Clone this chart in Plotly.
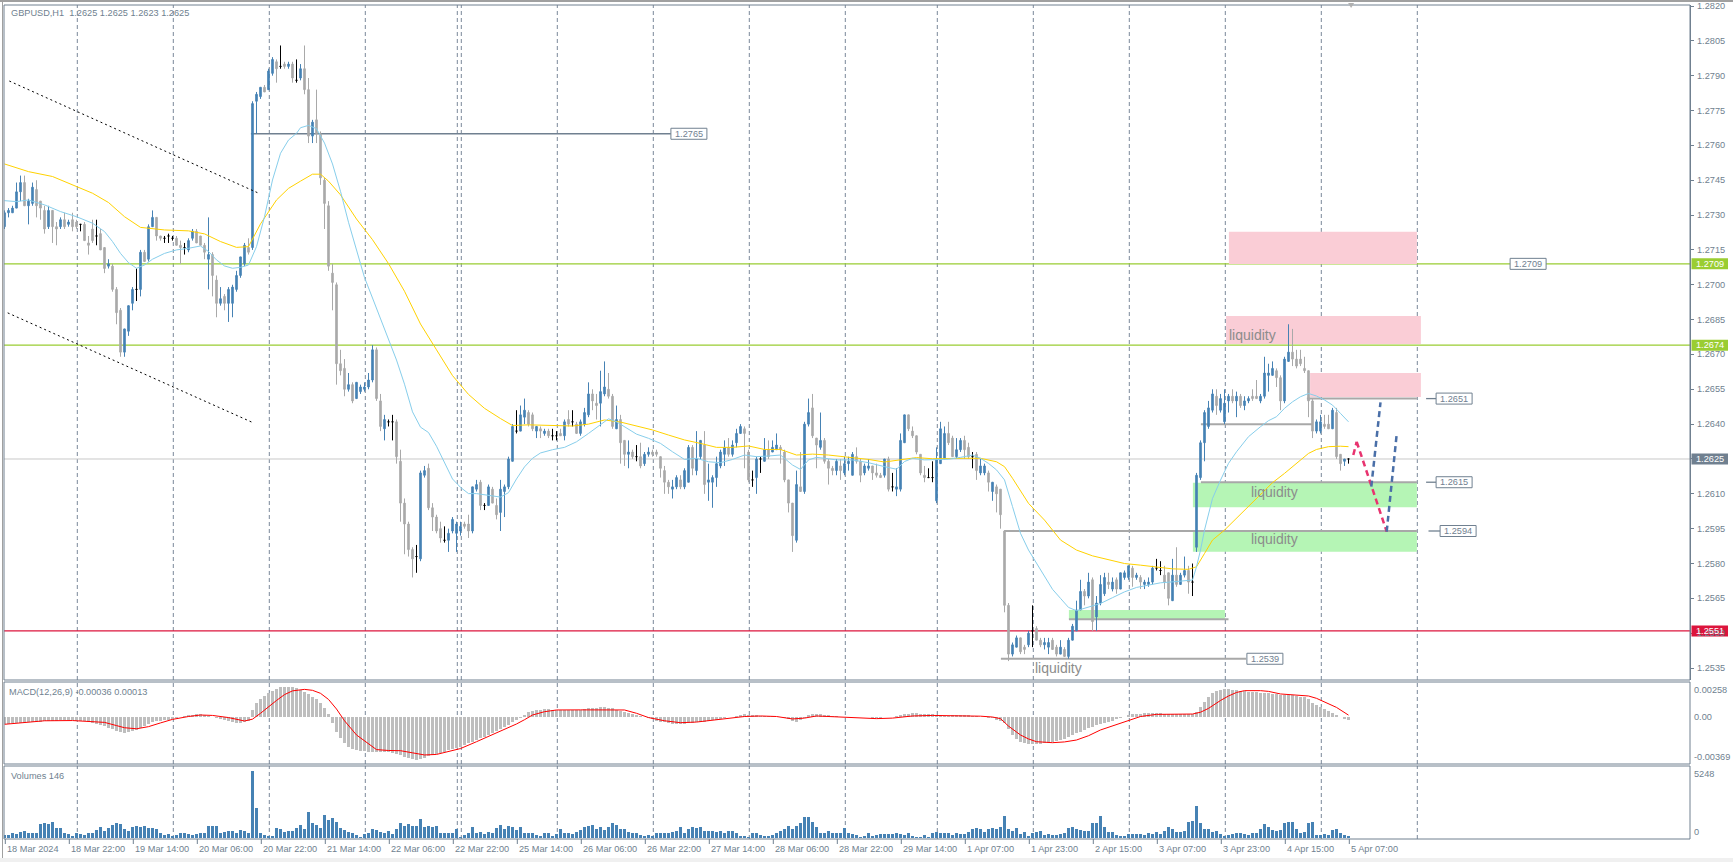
import plotly.graph_objects as go

# ---------------- chart data : GBPUSD, H1 (bar 0 = 18 Mar 2024 00:00) ----------------
first_bar = 6

opens = [
    1.2725,1.2731,1.2731,1.2733,1.2740,1.2744,1.2734,1.2735,1.2741,1.2736,
    1.2732,1.2725,1.2732,1.2725,1.2725,1.2728,1.2726,1.2728,1.2727,1.2726,
    1.2726,1.2718,1.2724,1.2721,1.2722,1.2716,1.2708,1.2708,1.2698,1.2689,
    1.2671,1.2680,1.2692,1.2698,1.2698,1.2714,1.2711,1.2725,1.2729,1.2721,
    1.2720,1.2721,1.2720,1.2720,1.2717,1.2716,1.2715,1.2720,1.2723,1.2721,
    1.2717,1.2711,1.2713,1.2702,1.2692,1.2695,1.2692,1.2692,1.2698,1.2704,
    1.2709,1.2716,1.2716,1.2779,1.2781,1.2785,1.2784,1.2791,1.2796,1.2794,
    1.2795,1.2794,1.2795,1.2788,1.2789,1.2793,1.2784,1.2764,1.2771,1.2765,
    1.2745,1.2734,1.2705,1.2700,1.2666,1.2664,1.2655,1.2657,1.2651,1.2654,
    1.2655,1.2656,1.2659,1.2672,1.2650,1.2638,1.2641,1.2641,1.2641,1.2624,
    1.2606,1.2597,1.2586,1.2583,1.2582,1.2618,1.2621,1.2604,1.2600,1.2595,
    1.2590,1.2590,1.2594,1.2593,1.2594,1.2597,1.2597,1.2594,1.2612,1.2615,
    1.2605,1.2605,1.2612,1.2605,1.2602,1.2611,1.2613,1.2624,1.2637,1.2637,
    1.2643,1.2645,1.2644,1.2637,1.2638,1.2636,1.2637,1.2635,1.2635,1.2636,
    1.2635,1.2642,1.2641,1.2640,1.2636,1.2640,1.2644,1.2653,1.2649,1.2649,
    1.2653,1.2655,1.2652,1.2638,1.2642,1.2633,1.2627,1.2628,1.2626,1.2626,
    1.2623,1.2627,1.2628,1.2628,1.2626,1.2620,1.2615,1.2612,1.2613,1.2616,
    1.2613,1.2615,1.2630,1.2620,1.2626,1.2631,1.2615,1.2615,1.2617,1.2622,
    1.2627,1.2630,1.2627,1.2632,1.2636,1.2638,1.2628,1.2616,1.2617,1.2625,
    1.2624,1.2629,1.2628,1.2629,1.2630,1.2628,1.2616,1.2606,1.2590,1.2613,
    1.2611,1.2640,1.2647,1.2634,1.2630,1.2633,1.2624,1.2621,1.2620,1.2622,
    1.2619,1.2623,1.2618,1.2626,1.2624,1.2619,1.2621,1.2622,1.2619,1.2618,
    1.2618,1.2625,1.2613,1.2612,1.2612,1.2632,1.2644,1.2637,1.2635,1.2627,
    1.2618,1.2617,1.2617,1.2607,1.2623,1.2625,1.2636,1.2634,1.2626,1.2629,
    1.2633,1.2630,1.2626,1.2627,1.2619,1.2619,1.2619,1.2611,1.2613,1.2612,
    1.2594,1.2562,1.2541,1.2544,1.2548,1.2544,1.2545,1.2551,1.2552,1.2547,
    1.2545,1.2544,1.2547,1.2544,1.2541,1.2543,1.2540,1.2547,1.2551,1.2560,
    1.2568,1.2566,1.2573,1.2557,1.2563,1.2567,1.2572,1.2569,1.2573,1.2569,
    1.2574,1.2574,1.2578,1.2574,1.2574,1.2571,1.2571,1.2572,1.2578,1.2577,
    1.2575,1.2576,1.2564,1.2575,1.2571,1.2575,1.2577,1.2572,1.2587,1.2617,
    1.2632,1.2639,1.2646,1.2652,1.2646,1.2641,1.2650,1.2652,1.2650,1.2652,
    1.2648,1.2650,1.2652,1.2652,1.2650,1.2652,1.2661,1.2661,1.2663,1.2660,
    1.2650,1.2667,1.2671,1.2668,1.2668,1.2664,1.2663,1.2650,1.2637,1.2637,
    1.2640,1.2640,1.2638,1.2645,1.2627,1.2624,1.2625,
]
highs = [
    1.2732,1.2733,1.2734,1.2744,1.2747,1.2747,1.2737,1.2744,1.2745,1.2736,
    1.2734,1.2734,1.2732,1.2727,1.2729,1.2731,1.2728,1.2731,1.2728,1.2726,
    1.2727,1.2721,1.2728,1.2728,1.2724,1.2716,1.2711,1.2709,1.2699,1.2690,
    1.2681,1.2691,1.2699,1.2707,1.2715,1.2715,1.2726,1.2732,1.2729,1.2721,
    1.2721,1.2722,1.2721,1.2721,1.2719,1.2718,1.2720,1.2724,1.2724,1.2721,
    1.2718,1.2729,1.2714,1.2704,1.2699,1.2696,1.2699,1.2700,1.2706,1.2712,
    1.2718,1.2720,1.2779,1.2783,1.2785,1.2786,1.2793,1.2798,1.2797,1.2803,
    1.2796,1.2796,1.2796,1.2797,1.2795,1.2803,1.2789,1.2771,1.2784,1.2766,
    1.2746,1.2736,1.2709,1.2701,1.2672,1.2668,1.2662,1.2658,1.2658,1.2657,
    1.2658,1.2662,1.2674,1.2673,1.2653,1.2644,1.2642,1.2644,1.2642,1.2629,
    1.2608,1.2598,1.2587,1.2588,1.2620,1.2622,1.2623,1.2606,1.2601,1.2598,
    1.2596,1.2595,1.2600,1.2598,1.2598,1.2598,1.2601,1.2613,1.2616,1.2616,
    1.2606,1.2614,1.2613,1.2608,1.2616,1.2614,1.2626,1.2640,1.2646,1.2648,
    1.2651,1.2646,1.2645,1.2639,1.2639,1.2638,1.2638,1.2638,1.2637,1.2638,
    1.2642,1.2646,1.2646,1.2641,1.2642,1.2647,1.2658,1.2655,1.2653,1.2663,
    1.2667,1.2662,1.2653,1.2648,1.2644,1.2633,1.2633,1.2629,1.2631,1.2632,
    1.2628,1.2630,1.2629,1.2629,1.2626,1.2622,1.2616,1.2616,1.2618,1.2618,
    1.2621,1.2631,1.2631,1.2637,1.2633,1.2637,1.2623,1.2618,1.2626,1.2629,
    1.2633,1.2634,1.2633,1.2638,1.2640,1.2639,1.2629,1.2620,1.2626,1.2626,
    1.2634,1.2633,1.2633,1.2636,1.2631,1.2629,1.2616,1.2606,1.2620,1.2628,
    1.2641,1.2651,1.2653,1.2634,1.2645,1.2634,1.2625,1.2622,1.2625,1.2625,
    1.2626,1.2626,1.2628,1.2630,1.2625,1.2623,1.2625,1.2622,1.2623,1.2619,
    1.2625,1.2626,1.2619,1.2621,1.2636,1.2644,1.2644,1.2639,1.2635,1.2627,
    1.2622,1.2621,1.2624,1.2630,1.2641,1.2639,1.2641,1.2635,1.2634,1.2634,
    1.2635,1.2632,1.2628,1.2628,1.2625,1.2623,1.2620,1.2615,1.2614,1.2612,
    1.2594,1.2563,1.2546,1.2549,1.2548,1.2545,1.2551,1.2562,1.2553,1.2548,
    1.2548,1.2548,1.2548,1.2545,1.2547,1.2544,1.2548,1.2554,1.2564,1.2573,
    1.2569,1.2576,1.2574,1.2566,1.2575,1.2576,1.2576,1.2574,1.2574,1.2576,
    1.2577,1.2579,1.2579,1.2576,1.2575,1.2573,1.2574,1.2579,1.2582,1.2581,
    1.2579,1.2576,1.2582,1.2587,1.2576,1.2583,1.2579,1.2580,1.2619,1.2633,
    1.2646,1.2650,1.2655,1.2655,1.2653,1.2655,1.2653,1.2655,1.2654,1.2653,
    1.2652,1.2652,1.2655,1.2659,1.2653,1.2669,1.2666,1.2667,1.2664,1.2661,
    1.2669,1.2683,1.2681,1.2672,1.2672,1.2669,1.2663,1.2651,1.2642,1.2644,
    1.2644,1.2644,1.2647,1.2647,1.2627,1.2625,1.2625,
]
lows = [
    1.2724,1.2729,1.2731,1.2733,1.2736,1.2734,1.2726,1.2734,1.2729,1.2728,
    1.2722,1.2724,1.2718,1.2717,1.2724,1.2724,1.2725,1.2723,1.2724,1.2723,
    1.2719,1.2713,1.2718,1.2717,1.2715,1.2705,1.2707,1.2697,1.2683,1.2669,
    1.2669,1.2678,1.2689,1.2693,1.2695,1.2710,1.2710,1.2725,1.2719,1.2719,
    1.2718,1.2718,1.2719,1.2717,1.2709,1.2713,1.2714,1.2719,1.2718,1.2717,
    1.2711,1.2698,1.2695,1.2686,1.2691,1.2689,1.2684,1.2686,1.2697,1.2703,
    1.2708,1.2713,1.2715,1.2765,1.2780,1.2783,1.2784,1.2790,1.2787,1.2793,
    1.2793,1.2793,1.2787,1.2787,1.2788,1.2782,1.2761,1.2761,1.2761,1.2743,
    1.2724,1.2706,1.2689,1.2657,1.2661,1.2652,1.2654,1.2649,1.2651,1.2653,
    1.2654,1.2655,1.2658,1.2650,1.2637,1.2633,1.2639,1.2633,1.2623,1.2598,
    1.2584,1.2583,1.2574,1.2576,1.2581,1.2617,1.2603,1.2594,1.2593,1.2589,
    1.2589,1.2585,1.2593,1.2585,1.2592,1.2595,1.2591,1.2593,1.2611,1.2603,
    1.2603,1.2605,1.2606,1.2599,1.2594,1.2600,1.2612,1.2624,1.2636,1.2637,
    1.2640,1.2639,1.2637,1.2634,1.2634,1.2635,1.2634,1.2633,1.2633,1.2635,
    1.2633,1.2639,1.2639,1.2636,1.2635,1.2639,1.2643,1.2646,1.2642,1.2639,
    1.2652,1.2651,1.2638,1.2638,1.2623,1.2622,1.2621,1.2625,1.2624,1.2621,
    1.2622,1.2626,1.2626,1.2626,1.2617,1.2610,1.2610,1.2608,1.2612,1.2612,
    1.2612,1.2615,1.2618,1.2618,1.2625,1.2610,1.2607,1.2604,1.2613,1.2621,
    1.2622,1.2626,1.2626,1.2630,1.2636,1.2621,1.2615,1.2613,1.2610,1.2619,
    1.2624,1.2625,1.2628,1.2629,1.2623,1.2615,1.2602,1.2585,1.2589,1.2611,
    1.2610,1.2639,1.2634,1.2621,1.2629,1.2623,1.2614,1.2618,1.2618,1.2616,
    1.2618,1.2620,1.2618,1.2623,1.2615,1.2618,1.2620,1.2616,1.2617,1.2617,
    1.2617,1.2611,1.2611,1.2609,1.2611,1.2632,1.2637,1.2634,1.2627,1.2618,
    1.2615,1.2617,1.2615,1.2606,1.2623,1.2625,1.2631,1.2626,1.2625,1.2628,
    1.2625,1.2625,1.2621,1.2616,1.2618,1.2618,1.2611,1.2607,1.2602,1.2595,
    1.2559,1.2538,1.2540,1.2544,1.2541,1.2541,1.2544,1.2544,1.2547,1.2544,
    1.2543,1.2541,1.2543,1.2540,1.2541,1.2540,1.2539,1.2547,1.2551,1.2560,
    1.2562,1.2565,1.2551,1.2551,1.2562,1.2566,1.2569,1.2568,1.2567,1.2569,
    1.2573,1.2573,1.2570,1.2573,1.2569,1.2569,1.2570,1.2571,1.2577,1.2575,
    1.2569,1.2562,1.2564,1.2570,1.2571,1.2574,1.2567,1.2566,1.2585,1.2616,
    1.2624,1.2638,1.2645,1.2644,1.2645,1.2640,1.2645,1.2649,1.2643,1.2647,
    1.2646,1.2649,1.2650,1.2651,1.2649,1.2651,1.2654,1.2661,1.2656,1.2646,
    1.2649,1.2667,1.2665,1.2664,1.2665,1.2662,1.2643,1.2634,1.2636,1.2636,
    1.2638,1.2638,1.2638,1.2625,1.2620,1.2622,1.2623,
]
closes = [
    1.2731,1.2732,1.2733,1.2740,1.2744,1.2734,1.2736,1.2742,1.2734,1.2733,
    1.2724,1.2732,1.2725,1.2724,1.2728,1.2725,1.2727,1.2725,1.2725,1.2726,
    1.2719,1.2717,1.2719,1.2721,1.2715,1.2707,1.2709,1.2698,1.2688,1.2671,
    1.2681,1.2691,1.2698,1.2698,1.2714,1.2710,1.2725,1.2729,1.2721,1.2720,
    1.2720,1.2721,1.2720,1.2717,1.2716,1.2716,1.2719,1.2723,1.2718,1.2717,
    1.2714,1.2713,1.2704,1.2692,1.2694,1.2692,1.2698,1.2699,1.2704,1.2712,
    1.2717,1.2714,1.2778,1.2782,1.2785,1.2783,1.2792,1.2797,1.2793,1.2794,
    1.2794,1.2795,1.2789,1.2788,1.2793,1.2784,1.2764,1.2770,1.2765,1.2746,
    1.2735,1.2708,1.2701,1.2666,1.2663,1.2655,1.2657,1.2650,1.2658,1.2656,
    1.2656,1.2659,1.2672,1.2651,1.2639,1.2642,1.2641,1.2641,1.2626,1.2606,
    1.2597,1.2586,1.2582,1.2583,1.2619,1.2620,1.2604,1.2600,1.2594,1.2591,
    1.2590,1.2593,1.2599,1.2597,1.2596,1.2596,1.2594,1.2613,1.2614,1.2605,
    1.2605,1.2613,1.2606,1.2601,1.2612,1.2613,1.2625,1.2639,1.2637,1.2644,
    1.2646,1.2640,1.2638,1.2639,1.2637,1.2637,1.2635,1.2635,1.2635,1.2635,
    1.2641,1.2640,1.2641,1.2636,1.2641,1.2645,1.2653,1.2650,1.2648,1.2654,
    1.2656,1.2652,1.2639,1.2642,1.2632,1.2627,1.2628,1.2626,1.2626,1.2622,
    1.2627,1.2628,1.2627,1.2627,1.2621,1.2615,1.2613,1.2613,1.2617,1.2613,
    1.2620,1.2630,1.2621,1.2625,1.2633,1.2614,1.2616,1.2617,1.2623,1.2628,
    1.2630,1.2627,1.2631,1.2636,1.2639,1.2636,1.2616,1.2616,1.2625,1.2625,
    1.2629,1.2626,1.2630,1.2631,1.2629,1.2616,1.2606,1.2592,1.2614,1.2611,
    1.2640,1.2645,1.2635,1.2631,1.2633,1.2624,1.2621,1.2620,1.2624,1.2620,
    1.2623,1.2624,1.2627,1.2624,1.2618,1.2622,1.2622,1.2619,1.2618,1.2617,
    1.2625,1.2612,1.2613,1.2613,1.2633,1.2644,1.2638,1.2635,1.2628,1.2619,
    1.2617,1.2617,1.2617,1.2625,1.2638,1.2636,1.2632,1.2626,1.2629,1.2633,
    1.2629,1.2626,1.2626,1.2620,1.2622,1.2622,1.2615,1.2615,1.2610,1.2601,
    1.2562,1.2541,1.2545,1.2548,1.2542,1.2543,1.2550,1.2551,1.2547,1.2545,
    1.2546,1.2546,1.2543,1.2541,1.2544,1.2540,1.2547,1.2553,1.2560,1.2568,
    1.2566,1.2572,1.2555,1.2563,1.2571,1.2574,1.2571,1.2572,1.2569,1.2576,
    1.2576,1.2579,1.2574,1.2575,1.2572,1.2572,1.2572,1.2578,1.2578,1.2577,
    1.2572,1.2565,1.2575,1.2571,1.2575,1.2577,1.2572,1.2572,1.2618,1.2632,
    1.2645,1.2647,1.2653,1.2648,1.2651,1.2649,1.2652,1.2650,1.2652,1.2648,
    1.2650,1.2651,1.2651,1.2651,1.2652,1.2662,1.2662,1.2664,1.2660,1.2650,
    1.2668,1.2671,1.2668,1.2665,1.2666,1.2663,1.2650,1.2637,1.2641,1.2641,
    1.2639,1.2638,1.2646,1.2626,1.2623,1.2625,1.2625,
]
bars = list(range(first_bar, first_bar + len(opens)))

# moving averages (bar index, price)
ma_fast_bars = [6,9,12,16,20,24,28,31,33,35,37,39,41,43,46,49,52,55,57,59,61,63,65,67,69,71,73,75,77,79,
                80,82,84,86,88,90,92,94,96,98,100,102,104,106,108,110,112,114,116,118,120,122,124,126,128,130,
                132,134,136,138,140,143,146,149,152,155,157,159,161,164,167,170,173,176,179,182,185,188,191,194,
                197,200,203,205,207,209,212,214,218,222,226,229,231,233,236,239,242,245,248,250,252,254,256,258,
                260,262,264,266,268,270,272,274,276,278,280,283,286,289,292,295,298,301,303,304,305,306,307,308,
                310,312,314,317,320,322,324,326,328,330,332,334,336,338,340,342]
ma_fast_vals = [1.27362,1.27358,1.27365,1.27344,1.27315,1.27293,1.27265,1.27229,1.27186,1.27135,1.27095,1.27071,
                1.27085,1.27110,1.27135,1.27150,1.27157,1.27167,1.27143,1.27107,1.27081,1.27071,1.27075,1.27085,
                1.27164,1.27293,1.27451,1.27566,1.27623,1.27652,1.27676,1.27686,1.27672,1.27610,1.27520,1.27402,
                1.27269,1.27150,1.27031,1.26943,1.26854,1.26765,1.26676,1.26572,1.26453,1.26387,1.26364,1.26305,
                1.26231,1.26164,1.26128,1.26101,1.26101,1.26095,1.26090,1.26086,1.26105,1.26164,1.26216,1.26253,
                1.26276,1.26290,1.26300,1.26324,1.26360,1.26396,1.26423,1.26410,1.26389,1.26357,1.26339,1.26317,
                1.26281,1.26248,1.26253,1.26238,1.26234,1.26248,1.26267,1.26260,1.26263,1.26267,1.26224,1.26205,
                1.26246,1.26257,1.26251,1.26246,1.26246,1.26234,1.26217,1.26206,1.26239,1.26253,1.26246,1.26246,
                1.26249,1.26257,1.26267,1.26253,1.26231,1.26203,1.26160,1.26045,1.25930,1.25858,1.25801,1.25743,
                1.25689,1.25650,1.25611,1.25597,1.25607,1.25617,1.25628,1.25653,1.25678,1.25697,1.25707,1.25717,
                1.25721,1.25726,1.25729,1.25786,1.25858,1.25944,1.26016,1.26080,1.26159,1.26231,1.26281,1.26346,
                1.26389,1.26415,1.26432,1.26468,1.26496,1.26518,1.26532,1.26521,1.26504,1.26482,1.26446,1.26410]
ma_slow_bars = [6,12,18,24,28,32,36,40,46,52,56,60,64,67,70,74,77,80,83,85,87,90,94,98,102,106,110,114,118,122,
                126,130,133,137,142,148,152,156,160,164,168,172,176,180,184,188,192,196,200,204,208,212,218,222,
                226,230,234,238,242,246,250,254,256,258,262,266,270,274,278,282,286,290,294,298,302,304,306,308,
                311,314,317,320,323,326,329,332,334,337,340,342]
ma_slow_vals = [1.27520,1.27487,1.27466,1.27423,1.27394,1.27354,1.27293,1.27247,1.27236,1.27232,1.27219,1.27186,
                1.27161,1.27164,1.27262,1.27365,1.27415,1.27446,1.27476,1.27476,1.27446,1.27387,1.27283,1.27194,
                1.27091,1.26972,1.26831,1.26720,1.26609,1.26528,1.26468,1.26424,1.26394,1.26397,1.26394,1.26392,
                1.26400,1.26418,1.26409,1.26392,1.26375,1.26353,1.26332,1.26317,1.26300,1.26300,1.26306,1.26291,
                1.26291,1.26267,1.26271,1.26267,1.26257,1.26248,1.26237,1.26246,1.26256,1.26251,1.26253,1.26253,
                1.26253,1.26238,1.26217,1.26167,1.26059,1.25987,1.25901,1.25858,1.25833,1.25815,1.25800,1.25793,
                1.25786,1.25777,1.25775,1.25786,1.25843,1.25901,1.25944,1.25994,1.26044,1.26095,1.26148,1.26188,
                1.26231,1.26274,1.26291,1.26303,1.26305,1.26303]

# MACD(12,26,9): main line per bar (units of 0.00001) and signal line samples
macd_main_e5 = [
    -70,-68,-65,-62,-60,-58,-56,-55,-52,-48,
    -45,-42,-40,-38,-36,-35,-35,-36,-38,-40,
    -45,-52,-60,-70,-80,-92,-105,-120,-135,-145,
    -150,-148,-138,-122,-105,-88,-70,-55,-45,-38,
    -33,-30,-25,-15,-5,5,10,15,20,20,
    15,8,0,-12,-25,-35,-45,-55,-62,-64,
    -55,-40,60,123,160,192,217,242,260,273,
    279,279,273,264,248,232,211,186,161,123,
    76,23,-64,-142,-204,-251,-282,-300,-312,-320,
    -326,-329,-330,-330,-329,-329,-335,-345,-352,-360,
    -375,-390,-400,-407,-400,-385,-370,-360,-350,-340,
    -328,-315,-303,-292,-282,-268,-252,-236,-220,-204,
    -188,-173,-155,-138,-120,-100,-80,-55,-33,-10,
    15,45,55,60,64,67,67,65,63,62,
    61,61,61,62,65,70,75,80,84,86,
    86,82,75,65,55,45,35,25,15,5,
    -6,-17,-28,-38,-48,-56,-63,-68,-70,-70,
    -68,-64,-60,-55,-51,-48,-42,-36,-30,-24,
    -16,-8,0,8,15,20,18,15,12,8,
    5,3,1,0,-5,-15,-28,-42,-48,-35,
    -10,10,20,23,23,18,12,6,2,0,
    0,-2,-3,-5,-6,-8,-9,-10,-10,-10,
    -8,-5,0,8,15,22,28,30,30,28,
    27,26,25,18,10,8,8,10,12,14,
    14,12,8,4,0,-5,-10,-17,-30,-45,
    -64,-120,-173,-210,-236,-250,-257,-257,-255,-253,
    -251,-245,-238,-230,-220,-206,-190,-174,-158,-142,
    -126,-110,-95,-84,-72,-61,-50,-39,-26,-12,
    0,14,20,24,27,29,30,30,30,29,
    27,25,24,23,22,21,20,25,45,90,
    139,180,217,236,248,254,254,250,246,242,
    238,234,230,226,223,222,220,215,210,205,
    201,200,198,192,186,179,160,130,108,92,
    70,50,35,10,-8,-25,-36,
]
signal_bars = [6,10,16,23,28,31,34,36,39,42,45,48,52,55,58,62,66,68,70,72,74,76,78,81,83,85,87,89,91,94,97,99,
               102,105,108,111,114,117,120,124,128,131,134,136,138,141,144,150,154,158,161,164,167,171,175,179,
               184,188,191,195,199,203,206,209,213,218,224,228,233,238,244,250,253,255,257,260,262,264,268,271,
               274,277,280,284,287,290,294,300,303,305,307,310,312,314,316,320,322,325,329,332,334,336,339,342]
signal_e5 = [-73,-60,-40,-38,-45,-55,-85,-105,-115,-95,-60,-27,0,14,10,-10,-42,-25,30,92,150,205,240,254,245,217,
             160,70,-40,-173,-260,-310,-318,-320,-340,-360,-355,-329,-300,-236,-170,-126,-70,-30,14,45,61,62,61,
             65,61,30,-10,-40,-58,-52,-33,-12,0,5,0,-23,-15,5,0,-10,-20,-15,5,10,8,3,-5,-20,-90,-173,-210,-236,
             -245,-238,-220,-180,-126,-75,-33,0,20,24,23,40,76,150,192,225,242,242,235,211,200,192,170,139,85,13]

# tick volumes per bar
volumes = [
    209,209,339,287,470,522,339,339,392,1070,
    1122,1070,1253,731,731,339,287,131,339,287,
    235,392,392,600,861,548,731,992,1175,1070,
    653,548,861,914,861,914,731,731,653,339,
    183,287,157,235,392,339,287,235,287,339,
    392,914,914,914,392,470,548,548,392,600,
    548,392,5248,2297,339,235,157,131,731,653,
    470,496,496,731,992,653,2036,1175,992,731,
    1775,1383,1514,1253,731,600,470,392,209,78,
    287,392,653,600,470,392,522,287,653,1122,
    914,1070,914,914,1436,861,914,861,914,392,
    392,339,339,653,78,209,339,861,339,470,
    287,470,339,731,992,653,914,809,600,861,
    392,339,339,209,131,339,339,131,287,653,
    339,339,287,470,600,861,914,992,653,861,
    600,861,1175,992,653,653,470,339,339,209,
    131,209,131,339,392,339,392,470,496,861,
    339,653,861,731,861,548,496,548,470,496,
    392,548,496,339,131,131,78,392,339,209,
    131,131,183,339,548,653,914,653,914,1122,
    1644,1644,1253,861,339,392,548,339,339,392,
    731,392,287,183,78,131,339,131,209,287,
    287,287,287,339,287,209,339,131,78,78,
    209,78,392,470,339,392,339,209,339,287,
    287,470,653,731,653,470,653,731,653,809,
    1697,653,548,731,287,470,131,339,470,548,
    209,287,209,209,287,392,731,809,653,600,
    548,548,1122,1175,1697,809,470,470,209,131,
    131,287,287,287,287,209,339,287,470,287,
    548,861,653,470,470,548,1253,1331,2480,1175,
    653,653,470,548,287,131,209,287,392,339,
    287,209,339,392,653,1070,861,600,548,600,
    1122,1227,1227,653,339,470,1175,1227,235,209,
    287,209,600,705,339,235,146,
]

# time axis labels
date_label_bars = [6, 22, 38, 54, 70, 86, 102, 118, 134, 150, 166, 182, 198, 214, 230,
                   246, 262, 278, 294, 310, 326, 342]
date_labels = ["18 Mar 2024", "18 Mar 22:00", "19 Mar 14:00", "20 Mar 06:00", "20 Mar 22:00",
               "21 Mar 14:00", "22 Mar 06:00", "22 Mar 22:00", "25 Mar 14:00", "26 Mar 06:00",
               "26 Mar 22:00", "27 Mar 14:00", "28 Mar 06:00", "28 Mar 22:00", "29 Mar 14:00",
               "1 Apr 07:00", "1 Apr 23:00", "2 Apr 15:00", "3 Apr 07:00", "3 Apr 23:00",
               "4 Apr 15:00", "5 Apr 07:00"]
day_separator_bars = [24, 48, 72, 96, 119, 120, 144, 168, 192, 216, 239, 263, 287, 311, 335, 359]
price_ticks = [1.2535, 1.2550, 1.2565, 1.2580, 1.2595, 1.2610, 1.2625, 1.2640, 1.2655, 1.2670,
               1.2685, 1.2700, 1.2715, 1.2730, 1.2745, 1.2760, 1.2775, 1.2790, 1.2805, 1.2820]

# drawn objects (price levels / zones / arrows)
green_levels = [1.2709, 1.2674]
red_level = 1.2551
bid_price = 1.2625
pink_zones = [(312.1, 359.1, 1.27089, 1.27228), (311.4, 360.1, 1.26745, 1.26866), (332.4, 360.1, 1.26517, 1.26620)]
green_zones = [(303.1, 359.1, 1.26042, 1.26148), (303.1, 359.1, 1.25851, 1.25937), (272.1, 311.1, 1.25560, 1.25600)]
grey_segments = [(305.1, 332.9, 1.2640), (305.1, 359.1, 1.2615), (255.9, 359.1, 1.2594),
                 (255.1, 316.4, 1.2539), (331.6, 359.1, 1.2651), (272.1, 312.0, 1.2556)]
level_1765 = (67.6, 172.6, 1.2765)
price_boxes = [("1.2765", 172.6, 1.2765), ("1.2651", 363.9, 1.2651), ("1.2615", 363.9, 1.2615),
               ("1.2594", 364.9, 1.2594), ("1.2539", 316.6, 1.2539), ("1.2709", 382.4, 1.2709)]
box_connectors = [(361.4, 363.9, 1.2651), (361.4, 363.9, 1.2615), (362.0, 364.9, 1.2594)]
channel_lines = [((7.2, 1.27877), (69.3, 1.27396)), ((6.8, 1.26879), (67.9, 1.26408))]
red_arrow = [(343.2, 1.26267), (344.05, 1.26324), (351.55, 1.25937)]
blue_arrows = [[(347.7, 1.26131), (350.0, 1.26494)], [(351.55, 1.25937), (354.1, 1.26365)]]
liquidity_texts = [(311.6, 1.26784, "left"), (323.4, 1.26108, "center"), (323.4, 1.25906, "center"),
                   (269.4, 1.25350, "center")]

# ---------------- layout geometry ----------------
W, H = 1733, 862
ML, MR, MT, MB = 4, 43, 5, 23
PW, PH = W - ML - MR, H - MT - MB
FONT = "Liberation Sans, Arial, sans-serif"
FG = "#6F7F8F"
GRIDC = "#7A8899"


def yp(py):
    return (H - MB - py) / PH


def xp(px):
    return (px - ML) / PW


X_RANGE = [(ML + 19.5) / 4.0, (W - MR + 19.5) / 4.0]
PX_PER_PRICE = 23230.0
P_TOP = 1.2820 + (6 - MT) / PX_PER_PRICE
P_BOT = 1.2820 - (680 - 6) / PX_PER_PRICE
MACD_K = 0.0000936
MACD_RANGE = [(716.5 - 764) * MACD_K, (716.5 - 682) * MACD_K]
VOL_K = 78.33
VOL_RANGE = [(837.7 - 839) * VOL_K, (837.7 - 766) * VOL_K]
DOM_MAIN = [yp(680), yp(MT)]
DOM_MACD = [yp(764), yp(682)]
DOM_VOL = [0.0, yp(766)]

fig = go.Figure()

# ---------------- candles ----------------
n = len(opens)
groups = [
    ([i for i in range(n) if closes[i] > opens[i]], "#4682B4"),
    ([i for i in range(n) if closes[i] < opens[i]], "#A9A9A9"),
    ([i for i in range(n) if closes[i] == opens[i]], "#000000"),
]
for idx, col in groups:
    fig.add_trace(go.Candlestick(
        x=[bars[i] for i in idx], open=[opens[i] for i in idx], high=[highs[i] for i in idx],
        low=[lows[i] for i in idx], close=[closes[i] for i in idx],
        increasing=dict(line=dict(color=col, width=1), fillcolor=col),
        decreasing=dict(line=dict(color=col, width=1), fillcolor=col),
        whiskerwidth=0, hoverinfo="skip", showlegend=False, xaxis="x", yaxis="y"))

fig.add_trace(go.Scatter(x=ma_slow_bars, y=ma_slow_vals, mode="lines", line=dict(color="#FFD200", width=1),
                         hoverinfo="skip", showlegend=False, xaxis="x", yaxis="y"))
fig.add_trace(go.Scatter(x=ma_fast_bars, y=ma_fast_vals, mode="lines", line=dict(color="#87CEEB", width=1),
                         hoverinfo="skip", showlegend=False, xaxis="x", yaxis="y"))

# ---------------- MACD ----------------
fig.add_trace(go.Bar(x=bars, y=[v * 1e-5 for v in macd_main_e5], width=0.62,
                     marker=dict(color="#BEBEBE", line=dict(width=0)),
                     hoverinfo="skip", showlegend=False, xaxis="x2", yaxis="y2"))
fig.add_trace(go.Scatter(x=signal_bars, y=[v * 1e-5 for v in signal_e5], mode="lines", line=dict(color="#FF0000", width=1),
                         hoverinfo="skip", showlegend=False, xaxis="x2", yaxis="y2"))

# ---------------- volumes ----------------
fig.add_trace(go.Bar(x=bars, y=volumes, width=0.7, marker=dict(color="#4682B4", line=dict(width=0)),
                     hoverinfo="skip", showlegend=False, xaxis="x3", yaxis="y3"))

shapes = []
annotations = []

# zones (background)
for x0, x1, y0, y1 in pink_zones:
    shapes.append(dict(type="rect", xref="x", yref="y", x0=x0, x1=x1, y0=y0, y1=y1,
                       fillcolor="#FACDD6", line=dict(width=0), layer="below"))
for x0, x1, y0, y1 in green_zones:
    shapes.append(dict(type="rect", xref="x", yref="y", x0=x0, x1=x1, y0=y0, y1=y1,
                       fillcolor="#B5F5B5", line=dict(width=0), layer="below"))

# day separators in every pane
for b in day_separator_bars:
    for dom in (DOM_MAIN, DOM_MACD, DOM_VOL):
        shapes.append(dict(type="line", xref="x", yref="paper", x0=b + 0.2, x1=b + 0.2, y0=dom[0], y1=dom[1],
                           line=dict(color=GRIDC, width=1, dash="4px,3px"), layer="below"))

# horizontal levels
for lv in green_levels:
    shapes.append(dict(type="line", xref="paper", yref="y", x0=0, x1=1, y0=lv, y1=lv,
                       line=dict(color="#9ACD32", width=1.3), layer="below"))
shapes.append(dict(type="line", xref="paper", yref="y", x0=0, x1=1, y0=red_level, y1=red_level,
                   line=dict(color="#DC143C", width=1.3), layer="below"))
shapes.append(dict(type="line", xref="paper", yref="y", x0=0, x1=1, y0=bid_price, y1=bid_price,
                   line=dict(color="#C8C8C8", width=1), layer="below"))
for x0, x1, y in grey_segments:
    shapes.append(dict(type="line", xref="x", yref="y", x0=x0, x1=x1, y0=y, y1=y,
                       line=dict(color="#A8A8A8", width=2), layer="below"))
shapes.append(dict(type="line", xref="x", yref="y", x0=level_1765[0], x1=level_1765[1], y0=level_1765[2],
                   y1=level_1765[2], line=dict(color="#708090", width=1.3), layer="below"))
for x0, x1, y in box_connectors:
    shapes.append(dict(type="line", xref="x", yref="y", x0=x0, x1=x1, y0=y, y1=y,
                       line=dict(color="#708090", width=1.3), layer="below"))

# channel lines (dotted)
for (xa, ya), (xb, yb) in channel_lines:
    shapes.append(dict(type="line", xref="x", yref="y", x0=xa, y0=ya, x1=xb, y1=yb,
                       line=dict(color="#000000", width=1, dash="2px,3px"), layer="above"))

# arrows (dashed)
for (xa, ya), (xb, yb) in zip(red_arrow[:-1], red_arrow[1:]):
    shapes.append(dict(type="line", xref="x", yref="y", x0=xa, y0=ya, x1=xb, y1=yb,
                       line=dict(color="#E8336F", width=2.5, dash="6px,4px"), layer="above"))
for seg in blue_arrows:
    (xa, ya), (xb, yb) = seg
    shapes.append(dict(type="line", xref="x", yref="y", x0=xa, y0=ya, x1=xb, y1=yb,
                       line=dict(color="#4A6FA8", width=2.5, dash="6px,4px"), layer="above"))

# price label boxes on the chart
half_box = 5.5 / PX_PER_PRICE
for txt, xb, y in price_boxes:
    shapes.append(dict(type="rect", xref="x", yref="y", x0=xb, x1=xb + 9.0, y0=y - half_box, y1=y + half_box,
                       fillcolor="white", line=dict(color="#708090", width=1), layer="above"))
    annotations.append(dict(xref="x", yref="y", x=xb + 4.5, y=y, text=txt, showarrow=False,
                            xanchor="center", yanchor="middle",
                            font=dict(family=FONT, size=9.2, color="#708090")))

# price scale labels (right)
for v in price_ticks:
    annotations.append(dict(xref="paper", yref="y", x=xp(1695), y=v, text=f"{v:.4f}", showarrow=False,
                            xanchor="left", yanchor="middle", font=dict(family=FONT, size=9.2, color=FG)))

# axis-side coloured price labels
for txt, y, bg in [("1.2709", 1.2709, "#9ACD32"), ("1.2674", 1.2674, "#9ACD32"),
                   ("1.2625", bid_price, "#708090"), ("1.2551", red_level, "#DC143C")]:
    shapes.append(dict(type="rect", xref="paper", yref="y", x0=xp(1691.5), x1=xp(1728), y0=y - half_box,
                       y1=y + half_box, fillcolor=bg, line=dict(width=0), layer="above"))
    annotations.append(dict(xref="paper", yref="y", x=xp(1710), y=y, text=txt, showarrow=False,
                            xanchor="center", yanchor="middle", font=dict(family=FONT, size=9.2, color="white")))

# liquidity labels
for xb, y, anchor in liquidity_texts:
    annotations.append(dict(xref="x", yref="y", x=xb, y=y, text="liquidity", showarrow=False,
                            xanchor=anchor, yanchor="middle", font=dict(family=FONT, size=14, color="#8C8C8C")))

# panel frames
for dom in (DOM_MAIN, DOM_MACD, DOM_VOL):
    shapes.append(dict(type="rect", xref="paper", yref="paper", x0=0, x1=1, y0=dom[0], y1=dom[1],
                       line=dict(color="#708090", width=1), fillcolor="rgba(0,0,0,0)", layer="above"))
shapes.append(dict(type="line", xref="paper", yref="paper", x0=xp(0), x1=xp(W), y0=yp(1), y1=yp(1),
                   line=dict(color="#A0A0A0", width=2)))
shapes.append(dict(type="line", xref="paper", yref="paper", x0=xp(2.5), x1=xp(2.5), y0=yp(858), y1=yp(1),
                   line=dict(color="#A0A0A0", width=1)))
shapes.append(dict(type="rect", xref="paper", yref="paper", x0=xp(0), x1=xp(W), y0=yp(862), y1=yp(858),
                   fillcolor="#F0F0F0", line=dict(width=0)))

# chart-shift marker
shapes.append(dict(type="path", xref="x", yref="paper",
                   path=f"M 341.9,{yp(3)} L 343.4,{yp(3)} L 342.65,{yp(8)} Z",
                   fillcolor="#B0B0B0", line=dict(width=0)))

# time axis: tick marks + labels
for b, t in zip(date_label_bars, date_labels):
    xb = b + 0.2
    shapes.append(dict(type="line", xref="x", yref="paper", x0=xb, x1=xb, y0=yp(839), y1=yp(844),
                       line=dict(color="#708090", width=1)))
    annotations.append(dict(xref="x", yref="paper", x=xb, y=yp(849), text=t, showarrow=False,
                            xanchor="left", yanchor="middle", xshift=0,
                            font=dict(family=FONT, size=9.2, color=FG)))

# pane titles
annotations.append(dict(xref="paper", yref="paper", x=xp(8.5), y=yp(12.7),
                        text="GBPUSD,H1\u00a0 1.2625 1.2625 1.2623 1.2625", showarrow=False,
                        xanchor="left", yanchor="middle", font=dict(family=FONT, size=9.2, color=FG)))
annotations.append(dict(xref="paper", yref="paper", x=xp(7), y=yp(691.7),
                        text="MACD(12,26,9) -0.00036 0.00013", showarrow=False,
                        xanchor="left", yanchor="middle", font=dict(family=FONT, size=9.2, color=FG)))
annotations.append(dict(xref="paper", yref="paper", x=xp(9), y=yp(776),
                        text="Volumes 146", showarrow=False,
                        xanchor="left", yanchor="middle", font=dict(family=FONT, size=9.2, color=FG)))

# indicator scales
for txt, py in [("0.00258", 690), ("0.00", 716.7), ("-0.00369", 757.3), ("5248", 774.3), ("0", 832.3)]:
    annotations.append(dict(xref="paper", yref="paper", x=xp(1692), y=yp(py), text=txt, showarrow=False,
                            xanchor="left", yanchor="middle", font=dict(family=FONT, size=9.2, color=FG)))

axis_common = dict(showgrid=False, zeroline=False, fixedrange=True)
fig.update_layout(
    width=W, height=H, margin=dict(l=ML, r=MR, t=MT, b=MB, pad=0),
    paper_bgcolor="white", plot_bgcolor="white", showlegend=False, hovermode=False,
    boxgap=0.45, bargap=0,
    xaxis=dict(domain=[0, 1], range=X_RANGE, anchor="y", showticklabels=False, ticks="",
               rangeslider=dict(visible=False), **axis_common),
    xaxis2=dict(domain=[0, 1], range=X_RANGE, anchor="y2", showticklabels=False, ticks="", **axis_common),
    xaxis3=dict(domain=[0, 1], range=X_RANGE, anchor="y3", showticklabels=False, ticks="", **axis_common),
    yaxis=dict(domain=DOM_MAIN, range=[P_BOT, P_TOP], anchor="x", side="right",
               tickmode="array", tickvals=price_ticks, showticklabels=False,
               ticks="outside", ticklen=3, tickcolor="#708090",
               showline=True, linecolor="#708090", linewidth=1, **axis_common),
    yaxis2=dict(domain=DOM_MACD, range=MACD_RANGE, anchor="x2", side="right", showticklabels=False,
                ticks="", **axis_common),
    yaxis3=dict(domain=DOM_VOL, range=VOL_RANGE, anchor="x3", side="right", showticklabels=False,
                ticks="", **axis_common),
    shapes=shapes, annotations=annotations,
)

fig.write_html("out.html", config={"displayModeBar": False, "staticPlot": True},
               post_script="document.body.style.margin='0';document.body.style.padding='0';")
